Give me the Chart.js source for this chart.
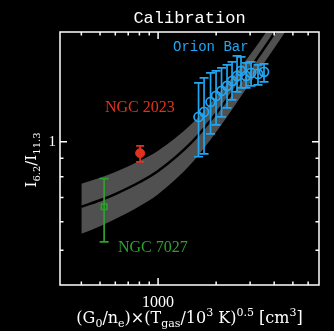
<!DOCTYPE html>
<html>
<head>
<meta charset="utf-8">
<script src="https://cdn.jsdelivr.net/npm/chart.js@4.4.0/dist/chart.umd.min.js"></script>
<style>
  html, body { margin: 0; padding: 0; background: #000; }
</style>
</head>
<body>
<canvas id="calib" width="334" height="331"></canvas>
<script>
// model curve and its spread
const modelX   = [400, 500, 600, 800, 1000, 1500, 2000, 3000, 4000, 5000];
const modelMid = [0.66, 0.688, 0.716, 0.772, 0.83, 1.00, 1.20, 1.60, 2.00, 2.40];
const modelHi  = [0.765, 0.795, 0.825, 0.885, 0.945, 1.125, 1.335, 1.745, 2.18, 2.62];
const modelLo  = [0.555, 0.583, 0.61, 0.662, 0.715, 0.875, 1.065, 1.455, 1.82, 2.18];

// Orion Bar
const orionX  = [1621, 1731, 1871, 1998, 2133, 2278, 2418, 2567, 2692, 2858, 3034, 3297, 3542];
const orionY  = [1.173, 1.211, 1.291, 1.342, 1.386, 1.431, 1.477, 1.525, 1.575, 1.525, 1.555, 1.545, 1.565];
const orionHi = [1.458, 1.506, 1.555, 1.575, 1.605, 1.636, 1.668, 1.733, 1.722, 1.657, 1.668, 1.636, 1.647];
const orionLo = [0.909, 0.926, 1.052, 1.115, 1.173, 1.243, 1.308, 1.377, 1.413, 1.413, 1.431, 1.440, 1.468];

// NGC 2023
const n2023X  = [807];
const n2023Y  = [0.93];
const n2023Hi = [0.975];
const n2023Lo = [0.88];

// NGC 7027
const n7027X  = [525];
const n7027Y  = [0.66];
const n7027Hi = [0.79];
const n7027Lo = [0.527];

const xTicks = [400, 500, 600, 700, 800, 900, 1000, 2000, 3000, 4000, 5000, 6000];
const yTicks = [0.5, 0.6, 0.7, 0.8, 0.9, 1];
const xLabels = [1000];
const yLabels = [1];

const BLUE = '#21a6f2';
const RED = '#e0321e';
const GREEN = '#2ea12e';

function pts(xs, ys) {
    return xs.map((v, i) => ({x: v, y: ys[i]}));
}

function errBars(ctx, sx, sy, xs, lo, hi, color, half) {
    ctx.save();
    ctx.strokeStyle = color;
    ctx.lineWidth = 1.7;
    xs.forEach((v, i) => {
        const px = sx.getPixelForValue(v);
        const p1 = sy.getPixelForValue(lo[i]);
        const p2 = sy.getPixelForValue(hi[i]);
        ctx.beginPath();
        ctx.moveTo(px, p1); ctx.lineTo(px, p2);
        ctx.moveTo(px - half, p1); ctx.lineTo(px + half, p1);
        ctx.moveTo(px - half, p2); ctx.lineTo(px + half, p2);
        ctx.stroke();
    });
    ctx.restore();
}

// draws pieces of text with sub/superscripts, returns width
function richText(ctx, parts, x, y, big, small, measureOnly) {
    let w = 0;
    parts.forEach(p => {
        const size = p.s ? small : big;
        ctx.font = size + 'px "DejaVu Serif"';
        const dy = p.s === 'sub' ? 4 : (p.s === 'sup' ? -7 : 0);
        if (!measureOnly) ctx.fillText(p.t, x + w, y + dy);
        w += ctx.measureText(p.t).width;
    });
    return w;
}

const frame = {
    id: 'frame',
    afterDatasetsDraw(chart) {
        const {ctx, scales: {x, y}} = chart;
        errBars(ctx, x, y, orionX, orionLo, orionHi, BLUE, 4.5);
        errBars(ctx, x, y, n2023X, n2023Lo, n2023Hi, RED, 4);
        errBars(ctx, x, y, n7027X, n7027Lo, n7027Hi, GREEN, 4.5);
    },
    afterDraw(chart) {
        const {ctx, chartArea: a, scales: {x, y}} = chart;
        ctx.save();
        ctx.strokeStyle = '#fff';
        ctx.lineWidth = 1.5;
        ctx.strokeRect(a.left, a.top, a.right - a.left, a.bottom - a.top);

        // inward ticks
        ctx.beginPath();
        xTicks.forEach(v => {
            const px = x.getPixelForValue(v);
            const len = xLabels.includes(v) ? 7 : 3.5;
            ctx.moveTo(px, a.bottom); ctx.lineTo(px, a.bottom - len);
            ctx.moveTo(px, a.top); ctx.lineTo(px, a.top + len);
        });
        yTicks.forEach(v => {
            const py = y.getPixelForValue(v);
            const len = yLabels.includes(v) ? 7 : 3.5;
            ctx.moveTo(a.left, py); ctx.lineTo(a.left + len, py);
            ctx.moveTo(a.right, py); ctx.lineTo(a.right - len, py);
        });
        ctx.stroke();

        // titles and labels
        ctx.fillStyle = '#fff';
        ctx.textBaseline = 'middle';
        ctx.textAlign = 'center';
        ctx.font = '17px "Liberation Mono"';
        ctx.fillText('Calibration', (a.left + a.right) / 2, 18);

        ctx.textAlign = 'left';
        ctx.font = '14px "Liberation Mono"';
        ctx.fillStyle = BLUE;
        ctx.fillText('Orion Bar', 173, 47);
        ctx.font = '16px "Liberation Serif"';
        ctx.fillStyle = RED;
        ctx.fillText('NGC 2023', 105, 108);
        ctx.fillStyle = GREEN;
        ctx.fillText('NGC 7027', 118, 248);

        // x axis title
        ctx.fillStyle = '#fff';
        ctx.textBaseline = 'alphabetic';
        const xt = [
            {t: '(G'}, {t: '0', s: 'sub'}, {t: '/n'}, {t: 'e', s: 'sub'}, {t: ')\u00d7(T'},
            {t: 'gas', s: 'sub'}, {t: '/10'}, {t: '3', s: 'sup'}, {t: ' K)'}, {t: '0.5', s: 'sup'},
            {t: ' [cm'}, {t: '3', s: 'sup'}, {t: ']'}
        ];
        const wx = richText(ctx, xt, 0, 0, 16, 11, true);
        richText(ctx, xt, (a.left + a.right) / 2 - wx / 2, 323, 16, 11, false);

        // y axis title, rotated
        const yt = [{t: 'I'}, {t: '6.2', s: 'sub'}, {t: '/I'}, {t: '11.3', s: 'sub'}];
        const wy = richText(ctx, yt, 0, 0, 15, 10, true);
        ctx.translate(36, 160);
        ctx.rotate(-Math.PI / 2);
        richText(ctx, yt, -wy / 2, 0, 15, 10, false);
        ctx.restore();
    }
};

new Chart(document.getElementById('calib'), {
    type: 'scatter',
    data: {
        datasets: [
            {
                type: 'line', showLine: true, order: 5, data: pts(modelX, modelHi), borderWidth: 0, pointRadius: 0,
                backgroundColor: 'rgb(80,80,80)', fill: '+1', cubicInterpolationMode: 'monotone'
            },
            {
                type: 'line', showLine: true, order: 6, data: pts(modelX, modelLo), borderWidth: 0, pointRadius: 0,
                fill: false, cubicInterpolationMode: 'monotone'
            },
            {
                type: 'line', showLine: true, order: 4, data: pts(modelX, modelMid), borderColor: '#000', borderWidth: 2.5,
                pointRadius: 0, fill: false, cubicInterpolationMode: 'monotone'
            },
            {
                order: 1, data: pts(orionX, orionY), pointStyle: 'circle', pointRadius: 4.5,
                borderColor: BLUE, borderWidth: 1.7, backgroundColor: 'rgba(0,0,0,0)'
            },
            {
                order: 2, data: pts(n2023X, n2023Y), pointStyle: 'circle', pointRadius: 4.5,
                borderColor: RED, borderWidth: 1, backgroundColor: RED
            },
            {
                order: 3, data: pts(n7027X, n7027Y), pointStyle: 'rect', pointRadius: 4,
                borderColor: GREEN, borderWidth: 1.5, backgroundColor: '#1f6f1f'
            }
        ]
    },
    options: {
        responsive: false,
        animation: false,
        layout: { padding: { left: 0, right: 15, top: 32, bottom: 0 } },
        plugins: { legend: false, tooltip: { enabled: false } },
        scales: {
            x: {
                type: 'logarithmic', min: 310, max: 6830,
                grid: { display: false }, border: { display: false },
                afterBuildTicks: s => { s.ticks = xTicks.map(v => ({value: v})); },
                afterFit: s => { s.height = 46; },
                ticks: {
                    color: '#fff', padding: 0, maxRotation: 0, autoSkip: false,
                    font: { family: 'Liberation Serif', size: 16 },
                    callback: v => xLabels.includes(v) ? String(v) : ''
                }
            },
            y: {
                type: 'logarithmic', min: 0.4, max: 2.02,
                grid: { display: false }, border: { display: false },
                afterBuildTicks: s => { s.ticks = yTicks.map(v => ({value: v})); },
                afterFit: s => { s.width = 60; },
                ticks: {
                    color: '#fff', padding: -4, autoSkip: false,
                    font: { family: 'Liberation Serif', size: 15 },
                    callback: v => yLabels.includes(v) ? String(v) : ''
                }
            }
        }
    },
    plugins: [frame]
});
</script>
</body>
</html>
